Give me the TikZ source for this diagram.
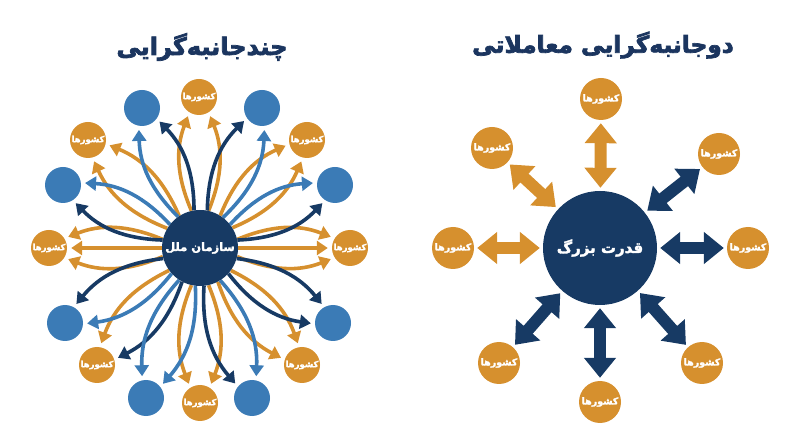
\documentclass[tikz,border=0pt]{standalone}
\usepackage{fontspec}
\newfontfamily\fa[Script=Arabic,FakeBold=2.2]{DejaVu Sans}
\newfontfamily\fat[Script=Arabic,FakeBold=3]{DejaVu Sans}
\TeXXeTstate=1
\usetikzlibrary{arrows.meta}
\definecolor{org}{HTML}{D6902E}
\definecolor{nav}{HTML}{173A64}
\definecolor{lbl}{HTML}{3B7BB6}
\definecolor{ttl}{HTML}{1B355F}
\pgfdeclarelayer{bg}
\pgfsetlayers{bg,main}
\newcommand\rtl[1]{\beginR #1\endR}
\newcommand\twoarr[4]{%
  \pgfmathtruncatemacro\angA{mod(#2+13+360,360)}%
  \pgfmathtruncatemacro\angB{mod(#2+180-32+360,360)}%
  \pgfmathtruncatemacro\angC{mod(#2-13+360,360)}%
  \pgfmathtruncatemacro\angD{mod(#2+180+32+360,360)}%
  \draw[arw,#3] (c.\angA) to[bend left=22] (#1.\angB);
  \draw[arw,#4] (c.\angC) to[bend right=22] (#1.\angD);
}
\begin{document}
\begin{tikzpicture}[x=1pt,y=1pt,
  oc/.style={circle, fill=org, minimum size=36pt, inner sep=0pt, text=white,
    font=\fa\bfseries\fontsize{8.5}{9}\selectfont},
  bc/.style={circle, fill=lbl, minimum size=36pt, inner sep=0pt},
  ro/.style={circle, fill=org, minimum size=42pt, inner sep=0pt, text=white,
    font=\fa\bfseries\fontsize{9.5}{10}\selectfont},
  arw/.style={line width=3.6pt, -{Triangle[length=11pt,width=14pt]}, shorten >=4pt},
  blk/.style={line width=12pt, {Triangle[length=20pt,width=31pt]}-{Triangle[length=20pt,width=31pt]},
    shorten >=3pt, shorten <=3pt},
  ttlst/.style={text=ttl, font=\fat\bfseries\fontsize{24}{28}\selectfont}]
\useasboundingbox (0,0) rectangle (800,447);
% titles
\node[ttlst] (t1) at (202,400) {\rtl{چندجانبه^^^^200cگرایی}};
\node[ttlst, font=\fat\bfseries\fontsize{23.3}{28}\selectfont] (t2) at (603,402) {\rtl{دوجانبه^^^^200cگرایی معاملاتی}};
% ===== left diagram =====
\node[circle, fill=nav, minimum size=76pt, inner sep=0pt, text=white,
  font=\fa\bfseries\fontsize{11.5}{14}\selectfont] (c) at (200,199) {\rtl{سازمان ملل}};
\node[oc] (o90) at (199,350) {\rtl{کشورها}};
\node[oc] (o45) at (307,307) {\rtl{کشورها}};
\node[oc] (o0) at (350,199) {\rtl{کشورها}};
\node[oc] (o315) at (302,82) {\rtl{کشورها}};
\node[oc] (o270) at (200,44) {\rtl{کشورها}};
\node[oc] (o225) at (97,82) {\rtl{کشورها}};
\node[oc] (o180) at (49,199) {\rtl{کشورها}};
\node[oc] (o135) at (88,307) {\rtl{کشورها}};
\node[bc] (b112) at (142,339) {};
\node[bc] (b67) at (262,339) {};
\node[bc] (b157) at (63,262) {};
\node[bc] (b22) at (335,262) {};
\node[bc] (b202) at (65,124) {};
\node[bc] (b337) at (333,124) {};
\node[bc] (b247) at (146,49) {};
\node[bc] (b292) at (252,49) {};
\begin{pgfonlayer}{bg}
\twoarr{o90}{90}{org}{org}
\twoarr{o45}{45}{org}{org}
\twoarr{o0}{0}{org}{org}
\twoarr{o315}{311}{org}{org}
\twoarr{o270}{270}{org}{org}
\twoarr{o225}{229}{nav}{org}
\twoarr{o180}{180}{org}{org}
\twoarr{o135}{136}{org}{org}
\twoarr{b112}{112}{lbl}{nav}
\twoarr{b67}{66}{nav}{lbl}
\twoarr{b157}{155}{nav}{lbl}
\twoarr{b22}{25}{lbl}{nav}
\twoarr{b202}{209}{lbl}{nav}
\twoarr{b337}{331}{nav}{nav}
\twoarr{b247}{250}{lbl}{lbl}
\twoarr{b292}{289}{lbl}{nav}
\draw[arw,org] (c) -- (o0);
\draw[arw,org] (c) -- (o180);
\end{pgfonlayer}
% ===== right diagram =====
\node[circle, fill=nav, minimum size=114pt, inner sep=0pt, text=white,
  font=\fa\bfseries\fontsize{15}{18}\selectfont] (R) at (600,199) {\rtl{قدرت بزرگ}};
\node[ro] (r1) at (601,348) {\rtl{کشورها}};
\node[ro] (r2) at (492,299) {\rtl{کشورها}};
\node[ro] (r3) at (719,293) {\rtl{کشورها}};
\node[ro] (r4) at (453,199) {\rtl{کشورها}};
\node[ro] (r5) at (748,199) {\rtl{کشورها}};
\node[ro] (r6) at (499,84) {\rtl{کشورها}};
\node[ro] (r7) at (600,45) {\rtl{کشورها}};
\node[ro] (r8) at (702,84) {\rtl{کشورها}};
\draw[blk,org] (R) -- (r1);
\draw[blk,org] (R) -- (r2);
\draw[blk,nav] (R) -- (r3);
\draw[blk,org] (R) -- (r4);
\draw[blk,nav] (R) -- (r5);
\draw[blk,nav] (R) -- (r6);
\draw[blk,nav] (R) -- (r7);
\draw[blk,nav] (R) -- (r8);
\end{tikzpicture}
\end{document}
